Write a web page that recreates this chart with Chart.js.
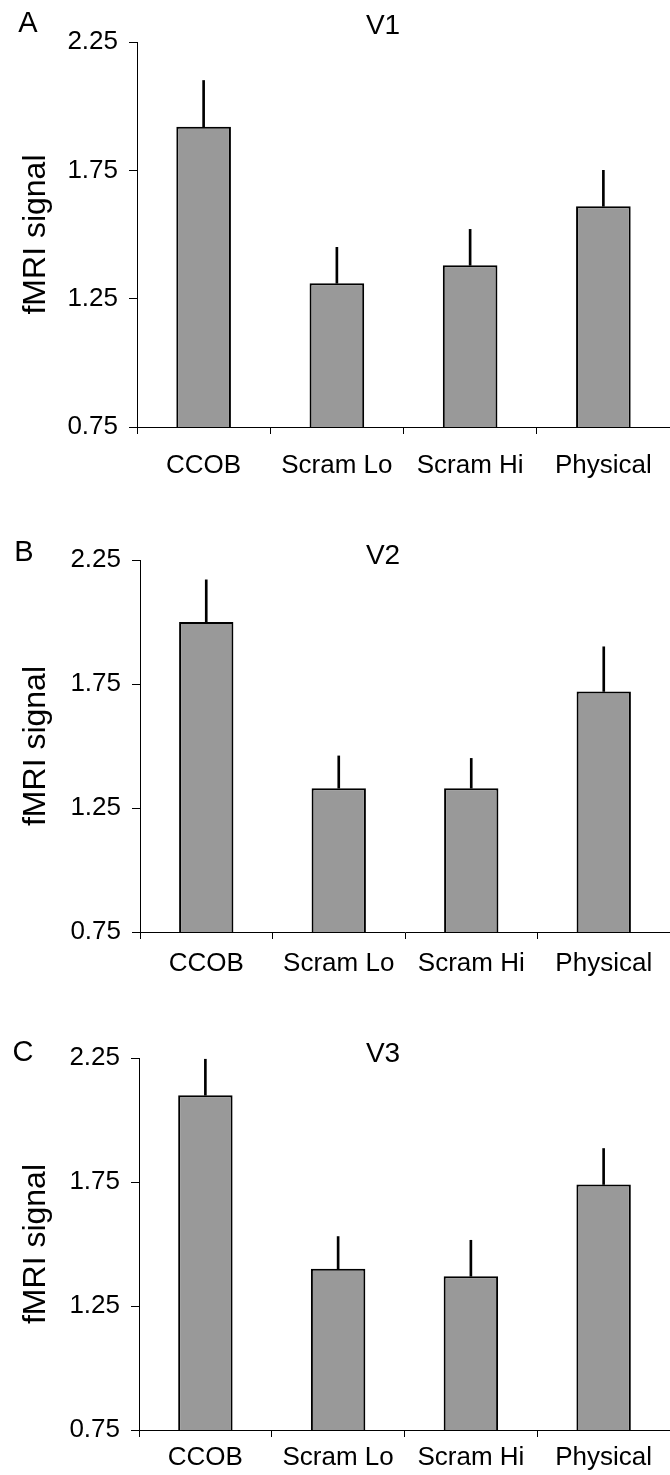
<!DOCTYPE html>
<html>
<head>
<meta charset="utf-8">
<style>
  * { margin: 0; padding: 0; box-sizing: border-box; }
  body { width: 670px; height: 1475px; background: #fff; position: relative; overflow: hidden; }
  canvas { position: absolute; left: 0; }
</style>
</head>
<body>
<canvas id="chartA" width="670" height="490" style="top:0px"></canvas>
<canvas id="chartB" width="670" height="495" style="top:490px"></canvas>
<canvas id="chartC" width="670" height="490" style="top:985px"></canvas>

<script src="https://cdn.jsdelivr.net/npm/chart.js/dist/chart.umd.min.js"></script>
<script>
// data
const categories = ['CCOB', 'Scram Lo', 'Scram Hi', 'Physical'];
const yTicks = [0.75, 1.25, 1.75, 2.25];

const v1Means = [1.92, 1.31, 1.38, 1.61];
const v1Errors = [0.18, 0.14, 0.14, 0.14];
const v2Means = [2.00, 1.33, 1.33, 1.72];
const v2Errors = [0.17, 0.13, 0.12, 0.18];
const v3Means = [2.10, 1.40, 1.37, 1.74];
const v3Errors = [0.145, 0.13, 0.145, 0.145];

const FONT = '"Liberation Sans", Arial, Helvetica, sans-serif';

// panel letter + area title
const panelText = {
  id: 'panelText',
  afterDraw(chart, args, opts) {
    const ctx = chart.ctx;
    ctx.save();
    ctx.fillStyle = '#000';
    ctx.textAlign = 'center';
    ctx.textBaseline = 'middle';
    ctx.font = '29px ' + FONT;
    ctx.fillText(opts.letter, opts.letterX, opts.letterY);
    ctx.font = '28px ' + FONT;
    ctx.fillText(opts.title, opts.titleX, opts.titleY);
    ctx.restore();
  }
};

function makePanel(id, means, errors, letter, title, g) {
  const canvas = document.getElementById(id);
  const errRanges = means.map((m, i) => [m, m + errors[i]]);
  return new Chart(canvas, {
    type: 'bar',
    data: {
      labels: categories,
      datasets: [
        {
          data: errRanges,
          grouped: false,
          barThickness: 2,
          backgroundColor: '#000',
          borderWidth: 0,
          order: 2
        },
        {
          data: means,
          grouped: false,
          categoryPercentage: 1,
          barPercentage: 0.41,
          backgroundColor: '#999999',
          borderColor: '#000',
          borderWidth: 2,
          borderSkipped: false,
          order: 1
        }
      ]
    },
    options: {
      responsive: false,
      animation: false,
      layout: { padding: { top: g.plotTop, left: 0, right: 0, bottom: 0 } },
      plugins: {
        legend: { display: false },
        tooltip: { enabled: false },
        panelText: { letter: letter, title: title, letterX: g.letterX, letterY: g.letterY, titleX: 383, titleY: g.titleY }
      },
      scales: {
        x: {
          afterFit: s => { s.height = canvas.height - g.plotBottom; },
          grid: { drawOnChartArea: false, color: '#000', tickLength: 7, offset: true },
          border: { display: true, color: '#000', width: 1 },
          ticks: { color: '#000', font: { family: FONT, size: 26 }, padding: g.labelPad, maxRotation: 0, autoSkip: false }
        },
        y: {
          min: 0.75,
          max: 2.25,
          afterFit: s => { s.width = g.axisLeft; },
          afterBuildTicks: s => { s.ticks = yTicks.map(v => ({ value: v })); },
          grid: { drawOnChartArea: false, color: '#000', tickLength: 8 },
          border: { display: true, color: '#000', width: 1 },
          ticks: { color: '#000', font: { family: FONT, size: 26 }, padding: 11, callback: v => v.toFixed(2) },
          title: { display: true, text: 'fMRI signal', color: '#000', font: { family: FONT, size: 32 }, padding: { top: 17, bottom: 0 } }
        }
      }
    },
    plugins: [panelText]
  });
}

makePanel('chartA', v1Means, v1Errors, 'A', 'V1',
  { axisLeft: 137, plotTop: 42, plotBottom: 427, labelPad: 16, letterX: 28, letterY: 24, titleY: 26 });
makePanel('chartB', v2Means, v2Errors, 'B', 'V2',
  { axisLeft: 140, plotTop: 70, plotBottom: 442, labelPad: 9, letterX: 24, letterY: 63, titleY: 66 });
makePanel('chartC', v3Means, v3Errors, 'C', 'V3',
  { axisLeft: 139, plotTop: 73, plotBottom: 445, labelPad: 5, letterX: 23, letterY: 68, titleY: 69 });
</script>
</body>
</html>
